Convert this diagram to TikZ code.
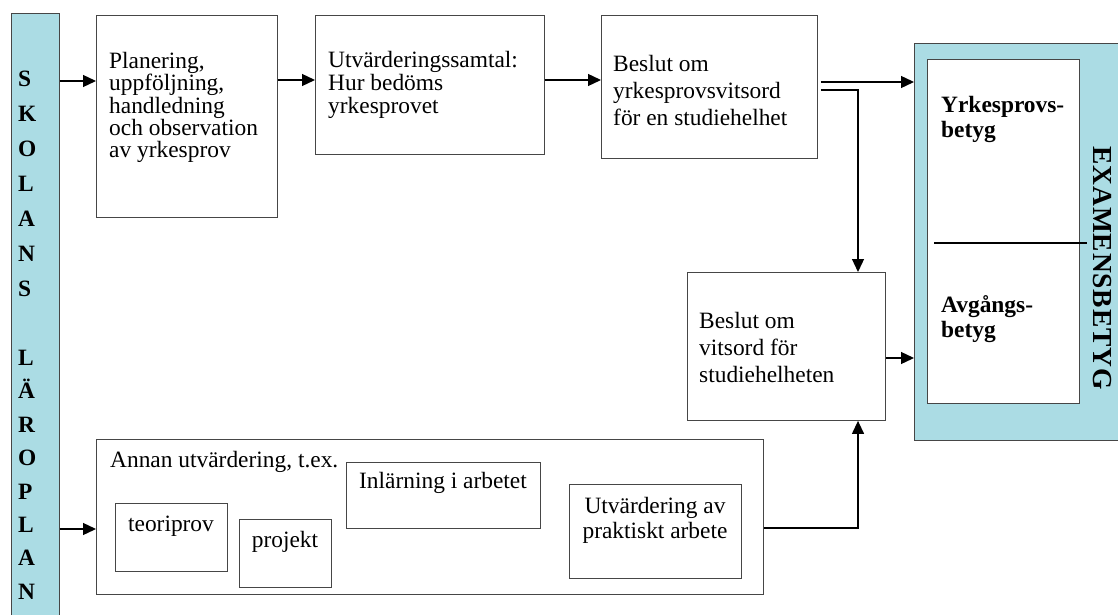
\documentclass[tikz,border=0pt]{standalone}
\usepackage{fontspec}
\setmainfont{Liberation Serif}
\newfontfamily\spacedfont[LetterSpace=3]{Liberation Serif}
\usetikzlibrary{arrows.meta}
\definecolor{barblue}{RGB}{171,220,228}
\definecolor{boxedge}{RGB}{70,70,70}
\begin{document}
\begin{tikzpicture}[x=1pt,y=-1pt,
  boxst/.style={draw=boxedge, line width=0.9pt, fill=white, inner sep=0pt, anchor=north west},
  txt/.style={inner sep=0pt, align=left, anchor=west},
  arr/.style={line width=1.3pt, -{Triangle[length=13pt,width=12pt]}},
  ln/.style={line width=1.3pt},
  letter/.style={inner sep=0pt, anchor=base west, font=\fontsize{23.4}{23.4}\selectfont\bfseries}]

\useasboundingbox (0,0) rectangle (1118,615);

% side bars
\node[boxst, fill=barblue, minimum width=48pt, minimum height=604pt] (bar) at (11,13) {};
\node[boxst, fill=barblue, minimum width=206pt, minimum height=397pt] (exam) at (914,43) {};
\node[boxst, minimum width=152pt, minimum height=344pt] (inner) at (927,59) {};
\draw[ln] (inner.west |- 0,243) ++(7,0) coordinate (dl) -- (1087,243) coordinate (dr);

% main boxes
\node[boxst, minimum width=181pt, minimum height=202pt] (b1) at (96,15) {};
\node[boxst, minimum width=229pt, minimum height=139pt] (b2) at (315,15) {};
\node[boxst, minimum width=216pt, minimum height=143pt] (b3) at (601,15) {};
\node[boxst, minimum width=198pt, minimum height=148pt] (b4) at (687,272) {};
\node[boxst, minimum width=667pt, minimum height=155pt] (ob) at (96,439) {};
\node[boxst, minimum width=112pt, minimum height=68pt] (teori) at (115,503) {};
\node[boxst, minimum width=92pt, minimum height=68pt] (proj) at (239,519) {};
\node[boxst, minimum width=194pt, minimum height=66pt] (inl) at (346,462) {};
\node[boxst, minimum width=172pt, minimum height=94pt] (utv) at (569,484) {};

% texts
\node[txt, font=\fontsize{23.4}{22.3}\selectfont] (t1) at (109,107.5) {Planering,\\uppföljning,\\handledning\\och observation\\av yrkesprov};
\node[txt, font=\fontsize{23.4}{23}\selectfont] (t2) at (328,85) {Utvärderingssamtal:\\Hur bedöms\\yrkesprovet};
\node[txt, font=\fontsize{23.4}{27}\selectfont] (t3) at (613,90) {Beslut om\\yrkesprovsvitsord\\för en studiehelhet};
\node[txt, font=\fontsize{23.4}{27}\selectfont] (t4) at (699,347.5) {Beslut om\\vitsord för\\studiehelheten};
\node[txt, font=\fontsize{23.4}{25}\selectfont\bfseries] (t5) at (941,119.5) {Yrkesprovs-\\betyg};
\node[txt, font=\fontsize{23.4}{25}\selectfont\bfseries] (t6) at (941,319.5) {Avgångs-\\betyg};
\node[inner sep=0pt, rotate=-90, font=\fontsize{27.5}{27.5}\spacedfont\bfseries] (t7) at (1102,268) {EXAMENSBETYG};
\node[txt, font=\fontsize{23.4}{23.4}\selectfont] (t8) at (110,462) {Annan utvärdering, t.ex.};
\node[inner sep=0pt, font=\fontsize{23.4}{23.4}\selectfont] (t9) at (171,526) {teoriprov};
\node[inner sep=0pt, font=\fontsize{23.4}{23.4}\selectfont] (t10) at (285,542) {projekt};
\node[inner sep=0pt, font=\fontsize{23.4}{23.4}\selectfont] (t11) at (443,483) {Inlärning i arbetet};
\node[inner sep=0pt, align=center, font=\fontsize{23.4}{25}\selectfont] (t12) at (655,520.5) {Utvärdering av\\praktiskt arbete};

% vertical letters
\foreach \l/\y [count=\i] in {S/79,K/114,O/149,L/184,A/219,N/254,S/289,L/358,Ä/391,R/425,O/458,P/492,L/525,A/558,N/592}
  \node[letter] (let\i) at (18,{\y+7.8}) {\l};

% helper coordinates
\coordinate (ya) at (0,81);
\coordinate (yab) at (0,80);
\coordinate (yb) at (0,82);
\coordinate (yc) at (0,90);
\coordinate (yd) at (0,358);
\coordinate (ye) at (0,529);
\coordinate (yf) at (0,528);
\coordinate (xv) at (858,0);

% connectors
\draw[arr] (bar.east |- ya) -- (b1.west |- ya);
\draw[arr] (b1.east |- yab) -- (b2.west |- yab);
\draw[arr] (b2.east |- yab) -- (b3.west |- yab);
\draw[arr] ([xshift=3pt]b3.east |- yb) -- (exam.west |- yb);
\draw[arr] ([xshift=3pt]b3.east |- yc) -| (xv |- b4.north);
\draw[arr] (b4.east |- yd) -- (exam.west |- yd);
\draw[arr] (bar.east |- ye) -- (ob.west |- ye);
\draw[arr] (ob.east |- yf) -| (xv |- b4.south);
\end{tikzpicture}
\end{document}
